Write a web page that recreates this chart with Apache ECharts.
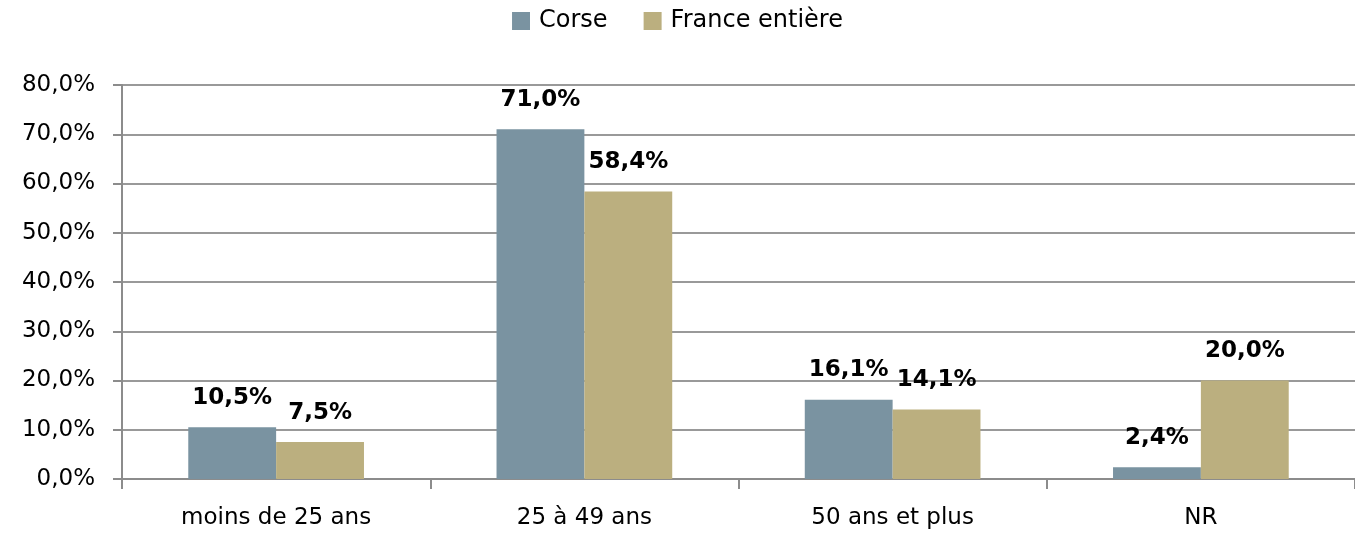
<!DOCTYPE html>
<html>
<head>
<meta charset="utf-8">
<script src="https://cdn.jsdelivr.net/npm/echarts@6/dist/echarts.min.js"></script>
<style>
	html, body { margin: 0; padding: 0; background: #fff; }
	#chart { width: 1355px; height: 534px; }
</style>
</head>
<body>
<div id="chart"></div>
<script>
var categories = ['moins de 25 ans', '25 à 49 ans', '50 ans et plus', 'NR'];
var corse = [10.5, 71.0, 16.1, 2.4];
var france = [7.5, 58.4, 14.1, 20.0];
var seriesNames = ['Corse', 'France entière'];

function pct(v) {
	return v.toFixed(1).replace('.', ',') + '%';
}

var myChart = echarts.init(document.getElementById('chart'));
var font = 'DejaVu Sans';
var label = {
	show: true,
	position: 'top',
	distance: 18,
	color: '#000',
	fontFamily: font,
	fontSize: 23,
	fontWeight: 'bold',
	formatter: function (p) { return pct(p.value); }
};
myChart.setOption({
	animation: false,
	legend: {
		data: seriesNames,
		top: 4,
		left: 'center',
		itemWidth: 18,
		itemHeight: 18,
		itemGap: 36,
		icon: 'rect',
		textStyle: { fontFamily: font, fontSize: 24, color: '#000', padding: [0, 0, 0, 4] }
	},
	grid: { left: 122, right: 0, top: 85, bottom: 55, containLabel: false },
	xAxis: {
		type: 'category',
		data: categories,
		axisLine: { lineStyle: { color: '#8c8c8c', width: 2 } },
		axisTick: { show: true, length: 10, lineStyle: { color: '#8c8c8c', width: 2 } },
		axisLabel: { fontFamily: font, fontSize: 23, color: '#000', margin: 28 }
	},
	yAxis: {
		type: 'value',
		min: 0,
		max: 80,
		interval: 10,
		axisLine: { show: true, lineStyle: { color: '#8c8c8c', width: 2 } },
		axisTick: { show: true, length: 9, lineStyle: { color: '#8c8c8c', width: 2 } },
		splitLine: { lineStyle: { color: '#999', width: 2 } },
		axisLabel: {
			fontFamily: font, fontSize: 23, color: '#000', margin: 27,
			formatter: function (v) { return pct(v); }
		}
	},
	series: [
		{
			name: seriesNames[0],
			type: 'bar',
			data: corse,
			itemStyle: { color: '#7a93a1' },
			barGap: '0%',
			barCategoryGap: '43%',
			label: label
		},
		{
			name: seriesNames[1],
			type: 'bar',
			data: france,
			itemStyle: { color: '#bbaf7f' },
			label: label
		}
	]
});
</script>
</body>
</html>
